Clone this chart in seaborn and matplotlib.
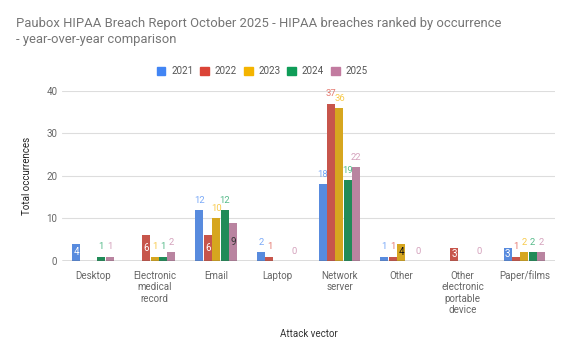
import numpy as np
import pandas as pd
import matplotlib.pyplot as plt
import seaborn as sns

vectors = ['Desktop', 'Electronic\nmedical\nrecord', 'Email', 'Laptop', 'Network\nserver',
           'Other', 'Other\nelectronic\nportable\ndevice', 'Paper/films']
years = ['2021', '2022', '2023', '2024', '2025']
v2021 = [4, 0, 12, 2, 18, 1, 0, 3]
v2022 = [0, 6, 6, 1, 37, 1, 3, 1]
v2023 = [0, 1, 10, 0, 36, 4, 0, 2]
v2024 = [1, 1, 12, 0, 19, 0, 0, 2]
v2025 = [1, 2, 9, 0, 22, 0, 0, 2]
colors = ['#4285F4', '#DB4437', '#F4B400', '#0F9D58', '#C27BA0']
# labels that Sheets drew inside the bar: (year index, vector index, text colour)
inside = {(0, 0): 'white', (1, 1): 'white', (1, 2): 'white', (4, 2): '#333333',
          (2, 5): '#111111', (1, 6): 'white', (0, 7): 'white'}

rows = []
for y, vals in zip(years, [v2021, v2022, v2023, v2024, v2025]):
    for v, n in zip(vectors, vals):
        rows.append({'vector': v, 'year': y, 'count': n})
df = pd.DataFrame(rows)

sns.set_theme(style='white')
plt.rcParams['font.family'] = ['Roboto', 'DejaVu Sans']

fig = plt.figure(figsize=(5.7, 3.52), dpi=100)
ax = fig.add_axes([0.109, 0.259, 0.865, 0.483])
sns.barplot(data=df, x='vector', y='count', hue='year', palette=colors,
            width=0.68, gap=0.05, ax=ax, legend=False, edgecolor='none', zorder=3)

ax.set_ylim(0, 40)
ax.set_yticks([0, 10, 20, 30, 40])
ax.yaxis.grid(True, color='#dddddd', linewidth=0.8, zorder=0)
ax.axhline(0, color='#555555', linewidth=1, zorder=4)
for s in ax.spines.values():
    s.set_visible(False)
ax.tick_params(axis='both', length=0, labelsize=7, colors='#666666')
ax.tick_params(axis='x', pad=7)
ax.set_xlabel('Attack vector', fontsize=7, color='#333333', labelpad=10)
ax.set_ylabel('Total occurrences', fontsize=7, color='#222222', labelpad=10)
ax.set_xlim(-0.5, 7.5)

for yi, cont in enumerate(ax.containers):
    for vi, bar in enumerate(cont):
        val = bar.get_height()
        x = bar.get_x() + bar.get_width() / 2
        if val == 0 and yi != 4:
            continue
        if (yi, vi) in inside:
            ax.text(x, val / 2 if val > 2 else 0.4, f'{int(val)}', ha='center', va='center' if val > 2 else 'bottom',
                    fontsize=7, color=inside[(yi, vi)], zorder=5)
        else:
            ax.text(x, val + 1.2, f'{int(val)}', ha='center', va='bottom',
                    fontsize=6.8, color=colors[yi], alpha=0.7, zorder=5)

fig.text(0.028, 0.952, 'Paubox HIPAA Breach Report October 2025 - HIPAA breaches ranked by occurrence\n- year-over-year comparison',
         fontsize=9.4, color='#757575', ha='left', va='top', linespacing=1.35)

handles = [plt.Rectangle((0, 0), 1, 1, color=c) for c in colors]
fig.legend(handles, years, loc='center', bbox_to_anchor=(0.46, 0.797), ncol=5, frameon=False,
           fontsize=7, labelcolor='#555555', handlelength=0.9, handleheight=0.9,
           columnspacing=0.7, handletextpad=0.6)

fig.savefig('out.png', dpi=100)
